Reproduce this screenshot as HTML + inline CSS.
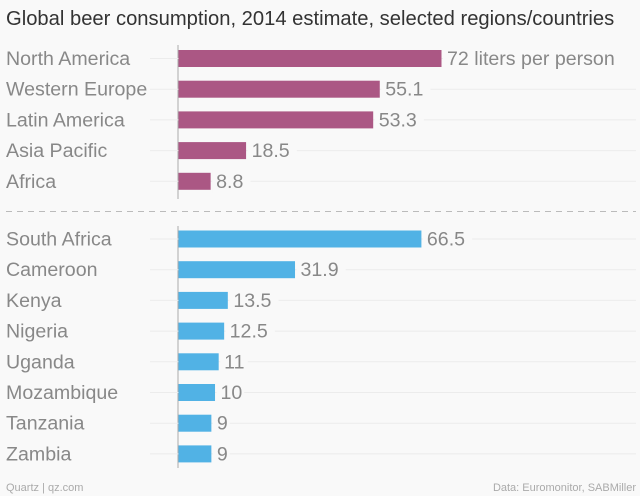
<!DOCTYPE html>
<html><head><meta charset="utf-8"><style>
html,body{margin:0;padding:0;background:#f9f9f9;}
svg{display:block;font-family:"Liberation Sans",sans-serif;}
</style></head><body>
<svg id="c" width="640" height="496">
<text x="6" y="25" font-size="20.2" fill="#333">Global beer consumption, 2014 estimate, selected regions/countries</text>
<line x1="6" y1="211.5" x2="636" y2="211.5" stroke="#bbb" stroke-dasharray="6,5"/>
<text x="6" y="491" font-size="11" fill="#aaa">Quartz | qz.com</text>
<text x="636" y="491" font-size="11" fill="#aaa" text-anchor="end">Data: Euromonitor, SABMiller</text>
</svg>
<script>
const regions=["North America","Western Europe","Latin America","Asia Pacific","Africa"];
const regionValues=[72,55.1,53.3,18.5,8.8];
const regionLabels=["72 liters per person","55.1","53.3","18.5","8.8"];
const countries=["South Africa","Cameroon","Kenya","Nigeria","Uganda","Mozambique","Tanzania","Zambia"];
const countryValues=[66.5,31.9,13.5,12.5,11,10,9,9];
const countryLabels=["66.5","31.9","13.5","12.5","11","10","9","9"];
const svg=document.getElementById('c');
const NS='http://www.w3.org/2000/svg';
const x0=178, k=(441-178)/72;
const xs=v=>x0+v*k;
function mk(t,a){const e=document.createElementNS(NS,t);for(const n in a)e.setAttribute(n,a[n]);svg.appendChild(e);return e;}
function group(cats,vals,labs,y0,step,color,axTop,axBot,prefix){
  const ax=mk('line',{x1:x0,x2:x0,y1:axTop,y2:axBot,stroke:'#aaa','stroke-width':1});
  
  
  cats.forEach((c,i)=>{
    const cy=y0+i*step;
    const g=mk('line',{x1:150,x2:636,y1:cy,y2:cy,stroke:'#ececec'});
    
    
    const t=mk('text',{x:6,y:cy+6.5,'font-size':19.6,fill:'#888'});t.textContent=c;
    
    
    const b=mk('rect',{x:x0+0.5,y:cy-8.5,width:xs(vals[i])-x0,height:17,fill:color});
    
    
    const bg=mk('rect',{x:xs(vals[i])+2,y:cy-12,width:labs[i].length*10.8+6,height:24,fill:'#f9f9f9'});
    
    
    const v=mk('text',{x:xs(vals[i])+6,y:cy+6.5,'font-size':19.6,fill:'#888'});v.textContent=labs[i];
    
    
  });
}
group(regions,regionValues,regionLabels,58.5,30.7,'#ab5784',45,199,'regions');
group(countries,countryValues,countryLabels,239,30.7,'#51b2e5',226,468,'countries');
</script>
</body></html>
